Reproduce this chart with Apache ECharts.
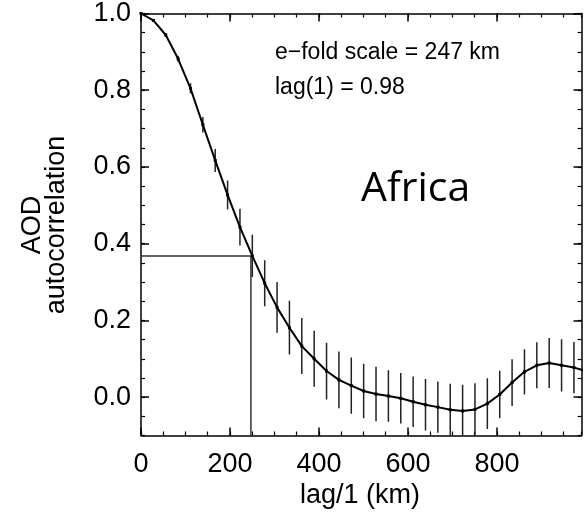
<!DOCTYPE html>
<html>
<head>
<meta charset="utf-8">
<script src="https://cdn.jsdelivr.net/npm/echarts@6/dist/echarts.min.js"></script>
<style>
html,body{margin:0;padding:0;background:#fff;}
#chart{width:588px;height:512px;}
</style>
</head>
<body>
<div id="chart"></div>
<script>
// ---- data ----
const lagKm = [0, 27.8, 55.6, 83.4, 111.2, 139, 166.8, 194.6, 222.4, 250.2, 278, 305.8, 333.6, 361.4, 389.2, 417, 444.8, 472.6, 500.4, 528.2, 556, 583.8, 611.6, 639.4, 667.2, 695, 722.8, 750.6, 778.4, 806.2, 834, 861.8, 889.6, 917.4, 945.2, 973, 1000.8];
const acf = [1.0, 0.982, 0.944, 0.882, 0.805, 0.71, 0.617, 0.527, 0.443, 0.368, 0.297, 0.234, 0.181, 0.133, 0.10, 0.068, 0.045, 0.03, 0.016, 0.008, 0.003, -0.003, -0.012, -0.02, -0.026, -0.033, -0.036, -0.032, -0.017, 0.007, 0.038, 0.066, 0.083, 0.089, 0.083, 0.077, 0.068];
const acfErr = [0, 0.003, 0.005, 0.008, 0.013, 0.02, 0.03, 0.038, 0.048, 0.055, 0.06, 0.066, 0.07, 0.073, 0.073, 0.074, 0.074, 0.073, 0.071, 0.071, 0.067, 0.066, 0.066, 0.067, 0.067, 0.068, 0.068, 0.068, 0.066, 0.062, 0.061, 0.059, 0.06, 0.065, 0.068, 0.067, 0.066];
const efoldKm = 247;
const efoldVal = 0.368;
const xTickLabels = [0, 200, 400, 600, 800];
const yTickLabels = [0.0, 0.2, 0.4, 0.6, 0.8, 1.0];
const xMin = 0, xMax = 990, yMin = -0.1, yMax = 1.0;
const annot1 = 'e\u2212fold scale = 247 km';
const annot2 = 'lag(1) = 0.98';
const regionLabel = 'Africa';
const xName = 'lag/1 (km)';
const yName = 'AOD\nautocorrelation';

const FONT = 'Liberation Sans, Arial, Helvetica, sans-serif';
const chart = echarts.init(document.getElementById('chart'), null, {renderer: 'canvas'});

function majorX(pos, labels) {
  return {
    type: 'value', min: xMin, max: xMax, position: pos,
    axisLine: {show: true, onZero: false, lineStyle: {color: '#000', width: 1.5}},
    axisTick: {show: true, inside: true, length: 8, customValues: xTickLabels, lineStyle: {color: '#000', width: 1.5}},
    axisLabel: labels ? {show: true, customValues: xTickLabels, fontSize: 27, margin: 16, color: '#000', fontFamily: FONT} : {show: false},
    splitLine: {show: false}
  };
}
function minorX(pos) {
  return {
    type: 'value', min: xMin, max: xMax, interval: 50, position: pos,
    axisLine: {show: false, onZero: false},
    axisTick: {show: true, inside: true, length: 4, lineStyle: {color: '#000', width: 1.2}},
    axisLabel: {show: false}, splitLine: {show: false}
  };
}
function majorY(pos, labels) {
  return {
    type: 'value', min: yMin, max: yMax, position: pos,
    axisLine: {show: true, onZero: false, lineStyle: {color: '#000', width: 1.5}},
    axisTick: {show: true, inside: true, length: 8, customValues: yTickLabels, lineStyle: {color: '#000', width: 1.5}},
    axisLabel: labels ? {show: true, customValues: yTickLabels, fontSize: 27, margin: 10, color: '#000', fontFamily: FONT,
      formatter: v => Number(v).toFixed(1)} : {show: false},
    splitLine: {show: false}
  };
}
function minorY(pos) {
  return {
    type: 'value', min: yMin, max: yMax, interval: 0.05, position: pos,
    axisLine: {show: false, onZero: false},
    axisTick: {show: true, inside: true, length: 4, lineStyle: {color: '#000', width: 1.2}},
    axisLabel: {show: false}, splitLine: {show: false}
  };
}

const option = {
  animation: false,
  backgroundColor: '#fff',
  grid: {left: 141, right: 6.5, top: 13, bottom: 76.5},
  xAxis: [majorX('bottom', true), minorX('bottom'), majorX('top', false), minorX('top')],
  yAxis: [majorY('left', true), minorY('left'), majorY('right', false), minorY('right')],
  series: [
    {
      type: 'line', xAxisIndex: 0, yAxisIndex: 0, clip: true,
      data: [[0, efoldVal], [efoldKm, efoldVal], [efoldKm, yMin]],
      symbol: 'none', lineStyle: {color: '#333', width: 1.5}, z: 2
    },
    {
      type: 'custom', xAxisIndex: 0, yAxisIndex: 0, clip: true,
      encode: {x: 0, y: 1},
      data: lagKm.map((x, i) => [x, acf[i], acfErr[i]]),
      renderItem: function (params, api) {
        const x = api.value(0), v = api.value(1), e = api.value(2);
        const lo = Math.max(v - e, yMin), hi = Math.min(v + e, yMax);
        const p1 = api.coord([x, lo]), p2 = api.coord([x, hi]);
        return {type: 'line', shape: {x1: p1[0], y1: p1[1], x2: p2[0], y2: p2[1]},
          style: {stroke: '#222', lineWidth: 1.5}};
      },
      z: 3
    },
    {
      type: 'line', xAxisIndex: 0, yAxisIndex: 0, clip: true,
      data: lagKm.map((x, i) => [x, acf[i]]),
      symbol: 'rect', symbolSize: 3, showSymbol: true,
      itemStyle: {color: '#000'},
      lineStyle: {color: '#000', width: 2}, z: 4
    }
  ],
  graphic: [
    {type: 'text', x: 275, y: 53, style: {text: annot1, font: '23px ' + FONT, fill: '#000', textAlign: 'left', textVerticalAlign: 'middle'}},
    {type: 'text', x: 275, y: 88, style: {text: annot2, font: '23px ' + FONT, fill: '#000', textAlign: 'left', textVerticalAlign: 'middle'}},
    {type: 'text', x: 361, y: 189, style: {text: regionLabel, font: '41px "Open Sans", sans-serif', fill: '#000', textAlign: 'left', textVerticalAlign: 'middle'}},
    {type: 'text', x: 360, y: 496, style: {text: xName, font: '27px ' + FONT, fill: '#000', textAlign: 'center', textVerticalAlign: 'middle'}},
    {type: 'text', x: 45, y: 225, rotation: Math.PI / 2, style: {text: yName, font: '27px ' + FONT, lineHeight: 24, fill: '#000', textAlign: 'center', textVerticalAlign: 'middle'}}
  ]
};
chart.setOption(option);
</script>
</body>
</html>
